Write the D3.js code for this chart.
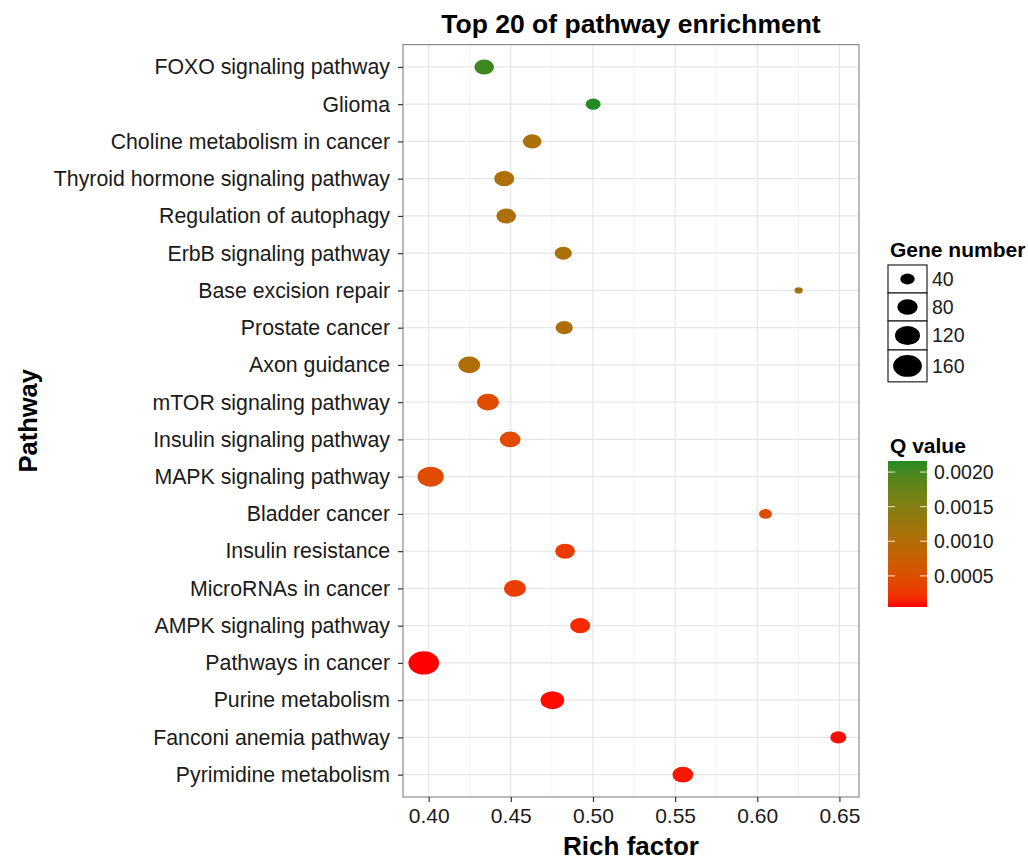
<!DOCTYPE html>
<html>
<head>
<meta charset="utf-8">
<script src="https://cdn.jsdelivr.net/npm/d3@7"></script>
<style>
  html, body { margin: 0; padding: 0; background: #ffffff; }
  svg { display: block; font-family: "Liberation Sans", Arial, sans-serif; }
</style>
</head>
<body>
<svg id="chart" width="1028" height="863"></svg>
<script>
// ---- data (top to bottom as displayed) ----
const pathways = [
  "FOXO signaling pathway",
  "Glioma",
  "Choline metabolism in cancer",
  "Thyroid hormone signaling pathway",
  "Regulation of autophagy",
  "ErbB signaling pathway",
  "Base excision repair",
  "Prostate cancer",
  "Axon guidance",
  "mTOR signaling pathway",
  "Insulin signaling pathway",
  "MAPK signaling pathway",
  "Bladder cancer",
  "Insulin resistance",
  "MicroRNAs in cancer",
  "AMPK signaling pathway",
  "Pathways in cancer",
  "Purine metabolism",
  "Fanconi anemia pathway",
  "Pyrimidine metabolism"
];
const richFactor = [0.4338, 0.5001, 0.4630, 0.4460, 0.4472, 0.4819, 0.6252, 0.4825, 0.4247, 0.4361,
                    0.4496, 0.4012, 0.6050, 0.4830, 0.4525, 0.4922, 0.3970, 0.4753, 0.6493, 0.5547];
const geneNumber = [75, 43, 67, 77, 75, 56, 13, 58, 93, 93,
                    82, 133, 32, 75, 93, 77, 181, 108, 49, 82];
const qValue = [0.00205, 0.00216, 0.00108, 0.00107, 0.00107, 0.00106, 0.00118, 0.00105, 0.00102, 0.00045,
                0.00043, 0.00046, 0.00046, 0.00028, 0.00030, 0.00018, 0.00005, 0.00007, 0.00007, 0.00009];
const xTicks = [0.40, 0.45, 0.50, 0.55, 0.60, 0.65];
const sizeBreaks = [40, 80, 120, 160];
const qBreaks = [0.0005, 0.0010, 0.0015, 0.0020];

const titleText = "Top 20 of pathway enrichment";
const xTitle = "Rich factor";
const yTitle = "Pathway";
const sizeTitle = "Gene number";
const colorTitle = "Q value";

// ---- layout ----
const panel = { left: 403, right: 859, top: 44.6, bottom: 797 };
const svg = d3.select("#chart");

const rfExt = d3.extent(richFactor);
const pad = (rfExt[1] - rfExt[0]) * 0.05;
const x = d3.scaleLinear().domain([rfExt[0] - pad, rfExt[1] + pad]).range([panel.left, panel.right]);
const y = d3.scalePoint().domain(pathways).range([panel.top, panel.bottom]).padding(0.6);
const size = d3.scaleSqrt().domain([0, 160]).range([0, 28.8]); // full width of ellipse
const aspect = 0.76;
const qExt = d3.extent(qValue);
const color = d3.scaleLinear().domain(qExt).range(["#ff0000", "#228b22"]).interpolate(d3.interpolateLab);

// panel background
svg.append("rect").attr("x", panel.left).attr("y", panel.top)
  .attr("width", panel.right - panel.left).attr("height", panel.bottom - panel.top)
  .attr("fill", "#ffffff");

// grid
const g = svg.append("g");
const minor = [];
for (let i = 0; i < xTicks.length - 1; i++) minor.push((xTicks[i] + xTicks[i + 1]) / 2);
minor.push(xTicks[0] - 0.025);
minor.push(xTicks[xTicks.length - 1] + 0.025);
g.selectAll("line.minor").data(minor.filter(v => x(v) > panel.left && x(v) < panel.right)).join("line")
  .attr("x1", d => x(d)).attr("x2", d => x(d)).attr("y1", panel.top).attr("y2", panel.bottom)
  .attr("stroke", "#f2f2f2").attr("stroke-width", 1);
g.selectAll("line.vmaj").data(xTicks).join("line")
  .attr("x1", d => x(d)).attr("x2", d => x(d)).attr("y1", panel.top).attr("y2", panel.bottom)
  .attr("stroke", "#e6e6e6").attr("stroke-width", 1.2);
svg.append("g").selectAll("line").data(pathways).join("line")
  .attr("x1", panel.left).attr("x2", panel.right).attr("y1", d => y(d)).attr("y2", d => y(d))
  .attr("stroke", "#e6e6e6").attr("stroke-width", 1.2);

// points
const pts = pathways.map((p, i) => ({ p, rf: richFactor[i], n: geneNumber[i], q: qValue[i] }));
svg.append("g").selectAll("ellipse").data(pts).join("ellipse")
  .attr("cx", d => x(d.rf)).attr("cy", d => y(d.p))
  .attr("rx", d => size(d.n) / 2).attr("ry", d => size(d.n) / 2 * aspect)
  .attr("fill", d => color(d.q));

// panel border
svg.append("rect").attr("x", panel.left).attr("y", panel.top)
  .attr("width", panel.right - panel.left).attr("height", panel.bottom - panel.top)
  .attr("fill", "none").attr("stroke", "#8c8c8c").attr("stroke-width", 1.2);

// axes
const xAxis = svg.append("g").attr("transform", `translate(0,${panel.bottom})`)
  .call(d3.axisBottom(x).tickValues(xTicks).tickFormat(d3.format(".2f")).tickSize(5).tickPadding(6));
xAxis.select(".domain").remove();
xAxis.selectAll(".tick line").attr("stroke", "#333").attr("stroke-width", 1.2);
xAxis.selectAll(".tick text").attr("font-size", 21).attr("fill", "#1a1a1a").attr("font-family", "Liberation Sans, Arial, sans-serif");

const yAxis = svg.append("g").attr("transform", `translate(${panel.left},0)`)
  .call(d3.axisLeft(y).tickSize(5).tickPadding(8));
yAxis.select(".domain").remove();
yAxis.selectAll(".tick line").attr("stroke", "#333").attr("stroke-width", 1.2);
yAxis.selectAll(".tick text").attr("font-size", 21.3).attr("fill", "#1a1a1a").attr("font-family", "Liberation Sans, Arial, sans-serif");

// titles
svg.append("text").attr("x", (panel.left + panel.right) / 2).attr("y", 33)
  .attr("text-anchor", "middle").attr("font-size", 26.5).attr("font-weight", "bold").text(titleText);
svg.append("text").attr("x", (panel.left + panel.right) / 2).attr("y", 855)
  .attr("text-anchor", "middle").attr("font-size", 26).attr("font-weight", "bold").text(xTitle);
svg.append("text").attr("transform", `translate(37,${(panel.top + panel.bottom) / 2}) rotate(-90)`)
  .attr("text-anchor", "middle").attr("font-size", 25.5).attr("font-weight", "bold").text(yTitle);

// size legend
const lx = 888;
svg.append("text").attr("x", 890).attr("y", 257).attr("font-size", 21).attr("font-weight", "bold").text(sizeTitle);
let ky = 265;
const keyW = 39;
sizeBreaks.forEach(b => {
  const h = Math.max(28, size(b) * aspect + 10);
  svg.append("rect").attr("x", lx).attr("y", ky).attr("width", keyW).attr("height", h)
    .attr("fill", "#ffffff").attr("stroke", "#222").attr("stroke-width", 1.2);
  svg.append("ellipse").attr("cx", lx + keyW / 2).attr("cy", ky + h / 2)
    .attr("rx", size(b) / 2).attr("ry", size(b) / 2 * aspect).attr("fill", "#000");
  svg.append("text").attr("x", lx + keyW + 5).attr("y", ky + h / 2).attr("dy", "0.36em")
    .attr("font-size", 19.5).attr("fill", "#1a1a1a").text(b);
  ky += h;
});

// colour legend
svg.append("text").attr("x", 890).attr("y", 453).attr("font-size", 21).attr("font-weight", "bold").text(colorTitle);
const cb = { x: 888, w: 39, top: 461, bottom: 607 };
const defs = svg.append("defs");
const grad = defs.append("linearGradient").attr("id", "qgrad")
  .attr("x1", 0).attr("y1", 1).attr("x2", 0).attr("y2", 0);
d3.range(0, 1.0001, 0.05).forEach(t => {
  grad.append("stop").attr("offset", t).attr("stop-color", color(qExt[0] + t * (qExt[1] - qExt[0])));
});
svg.append("rect").attr("x", cb.x).attr("y", cb.top).attr("width", cb.w).attr("height", cb.bottom - cb.top)
  .attr("fill", "url(#qgrad)");
const cy = d3.scaleLinear().domain(qExt).range([cb.bottom, cb.top]);
qBreaks.forEach(b => {
  svg.append("line").attr("x1", cb.x).attr("x2", cb.x + 7).attr("y1", cy(b)).attr("y2", cy(b))
    .attr("stroke", "#ffffff").attr("stroke-opacity", 0.7).attr("stroke-width", 1.2);
  svg.append("line").attr("x1", cb.x + cb.w - 7).attr("x2", cb.x + cb.w).attr("y1", cy(b)).attr("y2", cy(b))
    .attr("stroke", "#ffffff").attr("stroke-opacity", 0.7).attr("stroke-width", 1.2);
  svg.append("text").attr("x", cb.x + cb.w + 7).attr("y", cy(b)).attr("dy", "0.36em")
    .attr("font-size", 19.5).attr("fill", "#1a1a1a").text(d3.format(".4f")(b));
});
</script>
</body>
</html>
